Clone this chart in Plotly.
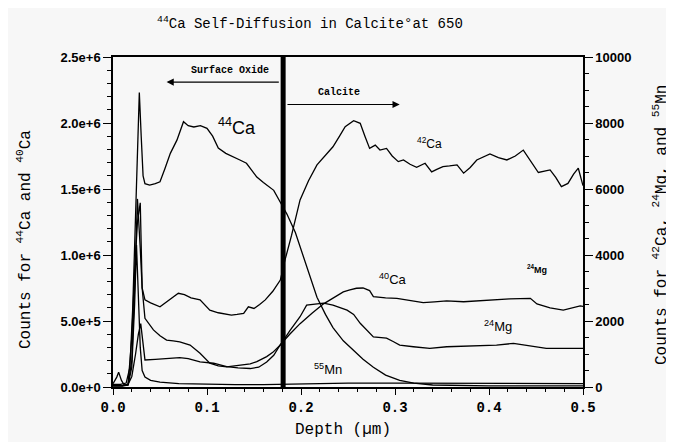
import plotly.graph_objects as go

# ---------------- data ----------------
# 44Ca (left axis, counts)
x44 = [0.0, 0.008, 0.014, 0.018, 0.021, 0.024, 0.026, 0.028, 0.030, 0.032, 0.034, 0.039, 0.045, 0.050,
       0.055, 0.061, 0.068, 0.075, 0.080, 0.086, 0.093, 0.100, 0.106, 0.112, 0.120, 0.128, 0.135, 0.142,
       0.148, 0.153, 0.160, 0.166, 0.171, 0.178, 0.185, 0.194, 0.205, 0.217, 0.226, 0.234, 0.245, 0.255,
       0.266, 0.277, 0.290, 0.305, 0.320, 0.340, 0.370, 0.400, 0.450, 0.500]
y44 = [0.02e6, 0.02e6, 0.03e6, 0.15e6, 0.6e6, 1.3e6, 1.8e6, 2.23e6, 1.9e6, 1.6e6, 1.54e6, 1.53e6, 1.54e6, 1.555e6,
       1.65e6, 1.77e6, 1.87e6, 2.01e6, 1.98e6, 1.97e6, 1.98e6, 1.96e6, 1.90e6, 1.81e6, 1.77e6, 1.745e6, 1.72e6, 1.695e6,
       1.64e6, 1.59e6, 1.55e6, 1.52e6, 1.49e6, 1.40e6, 1.31e6, 1.17e6, 0.93e6, 0.68e6, 0.55e6, 0.45e6, 0.35e6, 0.28e6,
       0.21e6, 0.15e6, 0.09e6, 0.05e6, 0.03e6, 0.015e6, 0.01e6, 0.008e6, 0.008e6, 0.008e6]

# 40Ca (left axis, counts)
x40 = [0.0, 0.010, 0.016, 0.020, 0.024, 0.027, 0.0295, 0.032, 0.034, 0.045, 0.057, 0.064, 0.071, 0.080,
       0.0926, 0.107, 0.121, 0.133, 0.146, 0.155, 0.1635, 0.171, 0.178, 0.188, 0.199, 0.212, 0.224, 0.231,
       0.238, 0.245, 0.252, 0.259, 0.266, 0.273, 0.277, 0.290, 0.302, 0.316, 0.330, 0.342, 0.355, 0.373,
       0.3975, 0.410, 0.422, 0.433, 0.444, 0.451, 0.465, 0.479, 0.490, 0.497, 0.500]
y40 = [0.01e6, 0.01e6, 0.02e6, 0.08e6, 0.25e6, 0.40e6, 0.48e6, 0.30e6, 0.205e6, 0.21e6, 0.217e6, 0.22e6, 0.222e6, 0.215e6,
       0.19e6, 0.18e6, 0.154e6, 0.145e6, 0.14e6, 0.15e6, 0.19e6, 0.24e6, 0.32e6, 0.40e6, 0.48e6, 0.56e6, 0.63e6, 0.66e6,
       0.69e6, 0.72e6, 0.735e6, 0.748e6, 0.75e6, 0.73e6, 0.685e6, 0.675e6, 0.672e6, 0.655e6, 0.639e6, 0.645e6, 0.652e6, 0.646e6,
       0.659e6, 0.66e6, 0.667e6, 0.67e6, 0.672e6, 0.629e6, 0.60e6, 0.583e6, 0.60e6, 0.614e6, 0.61e6]

# 42Ca (right axis, counts)
x42 = [0.0, 0.010, 0.016, 0.020, 0.023, 0.026, 0.029, 0.031, 0.034, 0.040, 0.050, 0.058, 0.064, 0.0695,
       0.076, 0.083, 0.0926, 0.103, 0.112, 0.120, 0.126, 0.132, 0.139, 0.144, 0.150, 0.156, 0.162, 0.170,
       0.178, 0.183, 0.190, 0.199, 0.208, 0.217, 0.225, 0.234, 0.241, 0.247, 0.256, 0.263, 0.268, 0.273,
       0.279, 0.284, 0.291, 0.297, 0.3035, 0.309, 0.316, 0.323, 0.332, 0.339, 0.345, 0.351, 0.358, 0.366,
       0.373, 0.380, 0.387, 0.394, 0.401, 0.410, 0.419, 0.428, 0.4365, 0.4525, 0.459, 0.465, 0.471, 0.477,
       0.484, 0.490, 0.495, 0.500]
y42 = [30, 30, 60, 800, 3000, 5700, 4200, 3000, 2640, 2550, 2430, 2600, 2750, 2840,
       2800, 2700, 2640, 2330, 2250, 2200, 2180, 2200, 2230, 2430, 2380, 2500, 2640, 2900,
       3240, 3850, 4600, 5670, 6250, 6730, 7000, 7280, 7600, 7890, 8070, 7990, 7600, 7230,
       7330, 7180, 7230, 7000, 6830, 6880, 6750, 6660, 6780, 6520, 6600, 6680, 6700, 6730,
       6480, 6650, 6880, 6980, 7060, 6950, 6880, 7000, 7180, 6500, 6550, 6580, 6350, 6070,
       6170, 6450, 6630, 6100]

# 24Mg (right axis, counts)
x24 = [0.0, 0.010, 0.016, 0.020, 0.023, 0.026, 0.029, 0.031, 0.034, 0.043, 0.050, 0.057, 0.064, 0.071,
       0.082, 0.0926, 0.103, 0.112, 0.121, 0.130, 0.139, 0.146, 0.153, 0.1635, 0.170, 0.178, 0.188, 0.199,
       0.206, 0.215, 0.224, 0.234, 0.249, 0.256, 0.263, 0.277, 0.284, 0.291, 0.298, 0.305, 0.3195, 0.337,
       0.355, 0.373, 0.390, 0.408, 0.426, 0.444, 0.461, 0.479, 0.497, 0.500]
y24 = [40, 40, 80, 1500, 3500, 5000, 5580, 3000, 2080, 1730, 1550, 1420, 1400, 1370,
       1270, 1020, 720, 640, 610, 640, 670, 700, 770, 920, 1050, 1270, 1700, 2130,
       2480, 2520, 2540, 2480, 2330, 2200, 1930, 1520, 1500, 1480, 1380, 1270, 1220, 1170,
       1220, 1240, 1270, 1270, 1320, 1240, 1170, 1170, 1170, 1170]

# 55Mn (right axis, counts)
x55 = [0.0, 0.004, 0.006, 0.009, 0.012, 0.016, 0.020, 0.023, 0.025, 0.027, 0.029, 0.031, 0.034, 0.040,
       0.050, 0.070, 0.100, 0.130, 0.160, 0.180, 0.200, 0.250, 0.300, 0.350, 0.400, 0.450, 0.500]
y55 = [100, 300, 450, 200, 60, 60, 600, 2500, 4300, 3000, 1200, 500, 300, 200,
       150, 100, 80, 70, 70, 80, 110, 120, 120, 110, 100, 100, 100]

boundary_depth = 0.181

x_tick_vals = [0.0, 0.1, 0.2, 0.3, 0.4, 0.5]
x_tick_text = ["0.0", "0.1", "0.2", "0.3", "0.4", "0.5"]
left_tick_vals = [0, 5e5, 1e6, 1.5e6, 2e6, 2.5e6]
left_tick_text = ["0.0e+0", "5.0e+5", "1.0e+6", "1.5e+6", "2.0e+6", "2.5e+6"]
right_tick_vals = [0, 2000, 4000, 6000, 8000, 10000]
right_tick_text = ["0", "2000", "4000", "6000", "8000", "10000"]

for a, b in [(x44, y44), (x40, y40), (x42, y42), (x24, y24), (x55, y55)]:
    assert len(a) == len(b), (len(a), len(b))

# ---------------- figure ----------------
BG = "#f7f7f7"
MONO = "Liberation Mono, Courier New, monospace"
SANS = "Liberation Sans, Arial, sans-serif"
line = dict(color="black", width=1.3)

# plot area in page pixels: x 113..583, y 57..387 (page body has an 8px offset)
PX0, PX1, PY0, PY1 = 113, 583, 57, 387


def px(X):
    return (X - PX0) / (PX1 - PX0)


def py(Y):
    return (PY1 - Y) / (PY1 - PY0)


fig = go.Figure()
fig.add_trace(go.Scatter(x=x44, y=y44, mode="lines", line=line, name="44Ca"))
fig.add_trace(go.Scatter(x=x40, y=y40, mode="lines", line=line, name="40Ca"))
fig.add_trace(go.Scatter(x=x42, y=y42, mode="lines", line=line, name="42Ca", yaxis="y2"))
fig.add_trace(go.Scatter(x=x24, y=y24, mode="lines", line=line, name="24Mg", yaxis="y2"))
fig.add_trace(go.Scatter(x=x55, y=y55, mode="lines", line=line, name="55Mn", yaxis="y2"))

fig.add_shape(type="line", xref="x", yref="paper", x0=boundary_depth, x1=boundary_depth,
              y0=0, y1=1, line=dict(color="black", width=5))

C = dict(xanchor="center", yanchor="middle", showarrow=False)
ann = []
# Title
ann.append(dict(text="<sup>44</sup>Ca Self-Diffusion in Calcite°at 650", xref="paper", yref="paper",
                x=px(310), y=py(23), font=dict(family=MONO, size=14, color="black"), **C))
# axis titles
ann.append(dict(text="Depth (µm)", xref="paper", yref="paper", x=px(343), y=py(430),
                font=dict(family=MONO, size=16, color="black"), **C))
ann.append(dict(text="Counts for <sup>44</sup>Ca and <sup>40</sup>Ca", xref="paper", yref="paper",
                x=px(24), y=py(240), textangle=-90, font=dict(family=MONO, size=16, color="black"), **C))
ann.append(dict(text="Counts for <sup>42</sup>Ca, <sup>24</sup>Mg, and <sup>55</sup>Mn", xref="paper",
                yref="paper", x=px(661), y=py(225), textangle=-90,
                font=dict(family=MONO, size=16, color="black"), **C))
# region arrows
ann.append(dict(x=0.057, y=2.31e6, ax=0.178, ay=2.31e6, xref="x", yref="y", axref="x", ayref="y",
                showarrow=True, arrowhead=2, arrowsize=1.2, arrowwidth=1.2, arrowcolor="black", text=""))
ann.append(dict(x=0.305, y=2.14e6, ax=0.184, ay=2.14e6, xref="x", yref="y", axref="x", ayref="y",
                showarrow=True, arrowhead=2, arrowsize=1.2, arrowwidth=1.2, arrowcolor="black", text=""))
ann.append(dict(text="<b>Surface Oxide</b>", x=0.124, y=2.40e6, xref="x", yref="y",
                font=dict(family=MONO, size=10, color="black"), **C))
ann.append(dict(text="<b>Calcite</b>", x=0.240, y=2.23e6, xref="x", yref="y",
                font=dict(family=MONO, size=10, color="black"), **C))
# series labels
ann.append(dict(text="<sup>44</sup>Ca", x=0.132, y=1.97e6, xref="x", yref="y",
                font=dict(family=SANS, size=18, color="black"), **C))
ann.append(dict(text="<sup>42</sup>Ca", x=0.337, y=7390, xref="x", yref="y2",
                font=dict(family=SANS, size=12, color="black"), **C))
ann.append(dict(text="<sup>40</sup>Ca", x=0.298, y=0.82e6, xref="x", yref="y",
                font=dict(family=SANS, size=13, color="black"), **C))
ann.append(dict(text="<b><sup>24</sup>Mg</b>", x=0.451, y=3575, xref="x", yref="y2",
                font=dict(family=SANS, size=9, color="black"), **C))
ann.append(dict(text="<sup>24</sup>Mg", x=0.41, y=1850, xref="x", yref="y2",
                font=dict(family=SANS, size=13, color="black"), **C))
ann.append(dict(text="<sup>55</sup>Mn", x=0.229, y=545, xref="x", yref="y2",
                font=dict(family=SANS, size=13, color="black"), **C))

axis_common = dict(showgrid=False, zeroline=False, showline=True, linecolor="black", linewidth=1.5,
                   ticks="outside", tickcolor="black", tickwidth=1.2)

fig.update_layout(
    width=666, height=434,
    margin=dict(l=PX0 - 8, r=674 - PX1, t=PY0 - 8, b=442 - PY1, autoexpand=False),
    paper_bgcolor=BG, plot_bgcolor=BG,
    showlegend=False,
    annotations=ann,
    xaxis=dict(range=[0, 0.5], tickmode="array", tickvals=x_tick_vals, ticktext=x_tick_text,
               ticklen=6, mirror=True,
               minor=dict(tickmode="linear", tick0=0, dtick=0.02, ticklen=3, ticks="outside", tickcolor="black"),
               tickfont=dict(family=MONO, size=14, color="black", weight="bold"), **axis_common),
    yaxis=dict(range=[0, 2.5e6], tickmode="array", tickvals=left_tick_vals, ticktext=left_tick_text,
               ticklen=8,
               minor=dict(tickmode="linear", tick0=0, dtick=1e5, ticklen=4, ticks="outside", tickcolor="black"),
               tickfont=dict(family=SANS, size=13, color="black", weight="bold"), **axis_common),
    yaxis2=dict(range=[0, 10000], overlaying="y", side="right", anchor="x",
                tickmode="array", tickvals=right_tick_vals, ticktext=right_tick_text, ticklen=8,
                minor=dict(tickmode="linear", tick0=0, dtick=500, ticklen=4, ticks="outside", tickcolor="black"),
                tickfont=dict(family=SANS, size=13, color="black", weight="bold"), **axis_common),
)

fig.write_html("out.html")
